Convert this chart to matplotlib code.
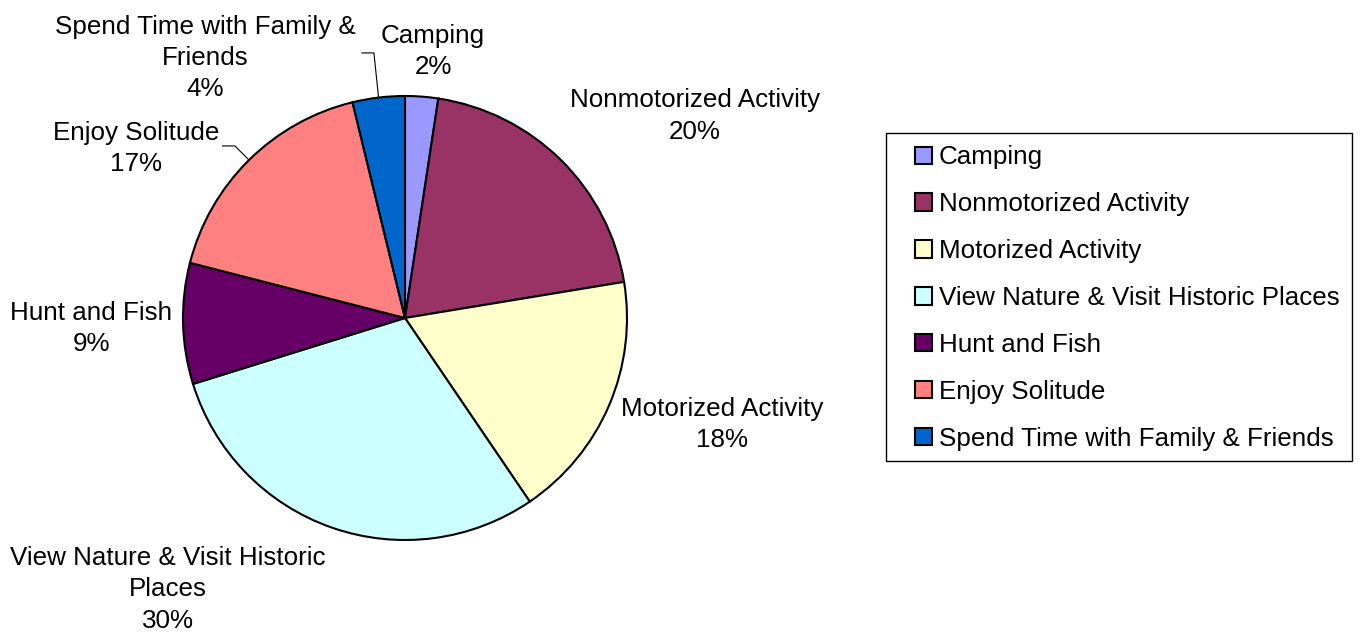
import matplotlib.pyplot as plt
from matplotlib.patches import Rectangle
import numpy as np

plt.rcParams['font.family'] = ['Liberation Sans', 'DejaVu Sans']

activities = ['Camping', 'Nonmotorized Activity', 'Motorized Activity',
              'View Nature & Visit Historic Places', 'Hunt and Fish',
              'Enjoy Solitude', 'Spend Time with Family & Friends']
# wrapped versions used for the slice labels
slice_names = ['Camping', 'Nonmotorized Activity', 'Motorized Activity',
               'View Nature & Visit Historic\nPlaces', 'Hunt and Fish',
               'Enjoy Solitude', 'Spend Time with Family &\nFriends']
shares = [2.4, 20.0, 18.1, 29.7, 8.8, 17.2, 3.8]
colors = ['#9999FF', '#993366', '#FFFFCC', '#CCFFFF', '#660066', '#FF8080', '#0066CC']

# label centres in pie-radius units
label_xy = [(0.126, 1.200), (1.306, 0.910), (1.428, -0.478), (-1.068, -1.222),
            (-1.414, -0.046), (-1.212, 0.765), (-0.901, 1.170)]
# elbow points of leader lines (slice index -> points before the wedge edge)
leaders = {5: [(-0.822, 0.775), (-0.766, 0.775)],
           6: [(-0.194, 1.194), (-0.140, 1.194)]}

W, H = 1369, 637
fig = plt.figure(figsize=(W / 100, H / 100), dpi=100)

cx, cy, r = 405, 318, 222
ax = fig.add_axes([(cx - r) / W, (H - cy - r) / H, 2 * r / W, 2 * r / H])
wedges, _ = ax.pie(shares, colors=colors, startangle=90, counterclock=False,
                   radius=1, wedgeprops=dict(edgecolor='black', linewidth=1.5))
ax.set_xlim(-1, 1)
ax.set_ylim(-1, 1)
ax.set_aspect('equal')
ax.axis('off')

fs = 18.7
total = sum(shares)
for i, (name, val) in enumerate(zip(slice_names, shares)):
    pct = val / total * 100
    x, y = label_xy[i]
    ax.text(x, y, f'{name}\n{pct:.0f}%', ha='center', va='center', fontsize=fs,
            linespacing=1.38)
    if i in leaders:
        w = wedges[i]
        mid = np.deg2rad((w.theta1 + w.theta2) / 2)
        pts = leaders[i] + [(np.cos(mid), np.sin(mid))]
        xs, ys = zip(*pts)
        ax.plot(xs, ys, color='black', lw=0.8, clip_on=False)

# legend frame and entries
fig.add_artist(Rectangle((886 / W, (H - 461) / H), 466 / W, 328 / H,
                         transform=fig.transFigure, fill=False,
                         edgecolor='black', linewidth=1))
fig.legend(wedges, activities, loc='center left',
           bbox_to_anchor=(915 / W, (H - 298) / H), frameon=False,
           fontsize=fs, borderpad=0, borderaxespad=0,
           handlelength=0.65, handleheight=0.65, handletextpad=0.27,
           labelspacing=0.88)

fig.savefig('out.png', dpi=100)
